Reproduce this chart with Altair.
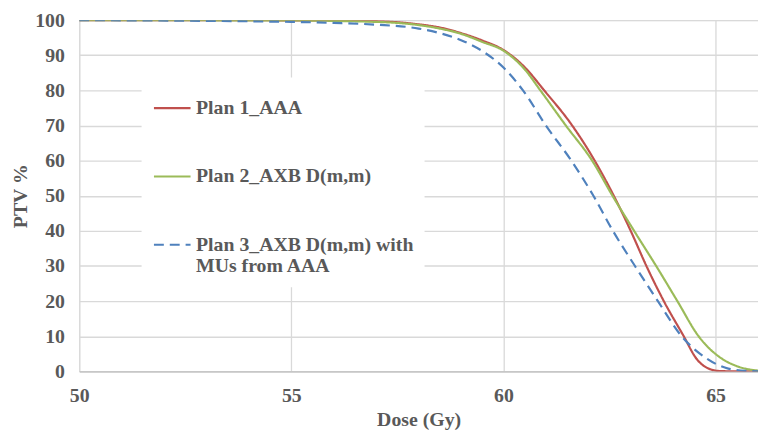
import altair as alt
import pandas as pd

plans = ["Plan 1_AAA", "Plan 2_AXB D(m,m)", "Plan 3_AXB D(m,m) with MUs from AAA"]
colors = ["#C0504D", "#9BBB59", "#4F81BD"]

dose_p1 = [50, 55, 57, 58, 58.5, 59, 59.5, 60, 60.5, 60.96, 61.62, 62.15, 62.6, 63.0, 63.37, 63.78, 64.25, 64.55, 64.8, 65.1, 65.5, 66]
pct_p1 = [100, 99.95, 99.7, 98.8, 97.9, 96.3, 94.2, 91.5, 86.6, 80, 70, 60, 50, 40, 30, 20, 10, 3.6, 1.0, 0.1, 0, 0]

dose_p2 = [50, 55, 57, 58, 58.5, 59, 59.5, 60, 60.5, 60.87, 61.47, 62.09, 62.57, 63.08, 63.6, 64.1, 64.6, 65.15, 65.5, 66]
pct_p2 = [100, 99.9, 99.5, 98.6, 97.6, 96.1, 93.8, 91.3, 86, 80, 70, 60, 50, 40, 30, 20, 10, 3.6, 1.5, 0.2]

dose_p3 = [50, 55, 56, 57, 58, 58.5, 59, 59.5, 60, 60.46, 61.0, 61.6, 62.12, 62.58, 63.1, 63.64, 64.2, 64.8, 65.3, 65.8, 66]
pct_p3 = [100, 99.5, 99.2, 98.7, 97.6, 96.3, 94.3, 91.2, 86.5, 80, 70, 60, 50, 40, 30, 20, 10, 3.6, 0.8, 0.1, 0]

x_ticks = [50, 55, 60, 65]
y_ticks = [0, 10, 20, 30, 40, 50, 60, 70, 80, 90, 100]

rows = []
for plan, ds, vs in zip(plans, [dose_p1, dose_p2, dose_p3], [pct_p1, pct_p2, pct_p3]):
    for d, v in zip(ds, vs):
        rows.append({"Plan": plan, "Dose": d, "PTV": v})
df = pd.DataFrame(rows)

FONT = "Liberation Serif"
TXT = "#595959"

label_expr = ("datum.label == 'Plan 3_AXB D(m,m) with MUs from AAA' ? "
              "['Plan 3_AXB D(m,m) with', 'MUs from AAA'] : datum.label")


def make_legend():
    return alt.Legend(title=None, orient="none", legendX=63, legendY=58,
                      fillColor="white", padding=11, symbolType="stroke",
                      symbolSize=1369, symbolStrokeWidth=2.2, labelOffset=4,
                      labelFont=FONT, labelFontSize=20, labelFontWeight="bold",
                      labelColor=TXT, labelLimit=400, rowPadding=39,
                      labelExpr=label_expr)


chart = alt.Chart(df).mark_line(interpolate="monotone", strokeWidth=2.2, clip=True).encode(
    x=alt.X("Dose:Q", title="Dose (Gy)",
            scale=alt.Scale(domain=[50, 66], nice=False, zero=False),
            axis=alt.Axis(values=x_ticks, grid=True, gridColor="#d9d9d9", gridWidth=1.3,
                          domain=True, domainColor="#bfbfbf", domainWidth=1.5, ticks=False,
                          labelPadding=14, labelFontSize=20, labelFont=FONT, labelFontWeight="bold",
                          labelColor=TXT, titleFont=FONT, titleFontSize=20, titleFontWeight="bold",
                          titleColor=TXT, titlePadding=5, labelFlush=False)),
    y=alt.Y("PTV:Q", title="PTV %",
            scale=alt.Scale(domain=[0, 100], nice=False),
            axis=alt.Axis(values=y_ticks, grid=True, gridColor="#d9d9d9", gridWidth=1.3,
                          domain=False, ticks=False, labelPadding=15, labelFontSize=20,
                          labelFont=FONT, labelFontWeight="bold", labelColor=TXT,
                          titleFont=FONT, titleFontSize=20, titleFontWeight="bold",
                          titleColor=TXT, titlePadding=4)),
    color=alt.Color("Plan:N", scale=alt.Scale(domain=plans, range=colors), legend=make_legend()),
    strokeDash=alt.StrokeDash("Plan:N", scale=alt.Scale(domain=plans, range=[[1, 0], [1, 0], [10, 6]]),
                              legend=make_legend()),
).properties(
    width=686, height=355,
    autosize=alt.AutoSizeParams(type="none"),
    padding={"left": 72, "top": 10, "right": 0, "bottom": 59},
).configure_view(stroke=None).configure(background="white")

chart.save("out.html", embed_options={"renderer": "svg", "actions": False})
